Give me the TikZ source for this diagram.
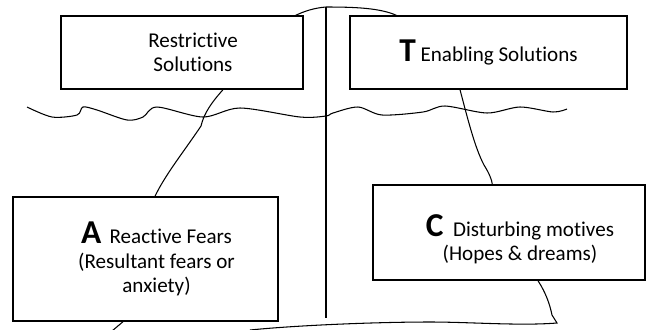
\documentclass[tikz,border=0pt]{standalone}
\usepackage{fontspec}
\setmainfont{Carlito}[Ligatures=NoCommon]
\usepackage{tikz}
\usetikzlibrary{positioning}

\newcommand{\boxletter}[1]{{\fontsize{19}{19}\selectfont\bfseries #1}}

\begin{document}
\begin{tikzpicture}[x=0.02cm, y=-0.02cm, line width=0.6pt,
    box/.style={draw, rectangle, line width=0.8pt, inner sep=0pt},
    txt/.style={align=center, font=\fontsize{12}{13.8}\selectfont}]

    \useasboundingbox (0,0) rectangle (650,329);

    % Boxes above and below the water line
    \node (restrictive) [box, minimum width=4.84cm, minimum height=1.46cm] at (182,52.5) {};
    \node (enabling) [box, minimum width=5.54cm, minimum height=1.46cm] at (488.5,52.5) {};
    \node (reactive) [box, minimum width=5.3cm, minimum height=2.48cm] at (145.5,259) {};
    \node (disturbing) [box, minimum width=5.44cm, minimum height=1.9cm] at (509,232.5) {};

    % Texts in the boxes
    \node (restrictivetext) [txt, xshift=0.22cm] at (restrictive.center) {Restrictive\\Solutions};
    \node (enablingtext) [txt] at (enabling.center) {\boxletter{T} Enabling Solutions};
    \node (reactivetext) [txt, xshift=0.22cm] at (reactive.center) {\boxletter{A}\, Reactive Fears\\(Resultant fears or\\anxiety)};
    \node (disturbingtext) [txt, xshift=0.22cm, yshift=-0.14cm] at (disturbing.center) {\boxletter{C}\ \ Disturbing motives\\(Hopes \& dreams)};

    % Iceberg outline
    \coordinate (peak) at (326,7);
    \coordinate (keel) at (326,318);
    \coordinate (heel) at (250,330);
    \coordinate (stub) at (112,331);

    \draw ([xshift=-0.16cm]restrictive.north east) .. controls (305,11) and (314,8) .. (peak) .. controls (355,7) and (380,8) .. ([xshift=0.94cm]enabling.north west);
    \draw (peak) -- (keel);

    % Water line
    \draw plot[smooth, tension=0.5] coordinates {(27,107) (52,117) (77,115) (83,107) (97,110) (127,120) (143,117) (157,107) (203,117) (240,108) (300,117) (326,116) (333,113) (358,107) (382,115) (423,112) (445,106) (487,113) (520,107) (553,112) (567,109)};

    % Connectors between the boxes
    \draw ([xshift=0.82cm]restrictive.south) .. controls (212,102) and (204,113) .. (201,126) .. controls (185,150) and (165,175) .. ([xshift=0.19cm]reactive.north);
    \draw ([xshift=-0.57cm]enabling.south) .. controls (468,120) and (475,148) .. (484,165) .. controls (489,173) and (492,180) .. ([xshift=2.4cm]disturbing.north west);
    \draw ([xshift=0.58cm]disturbing.south) .. controls (546,293) and (550,305) .. (552,315) -- (557,323) .. controls (520,326) and (470,322) .. (430,322) .. controls (380,322) and (300,325) .. (heel);
    \draw ([xshift=-0.45cm]reactive.south) -- (stub);

\end{tikzpicture}
\end{document}
